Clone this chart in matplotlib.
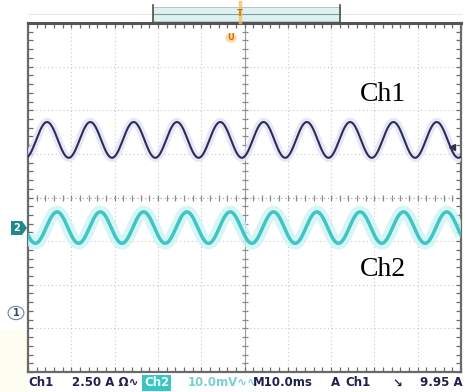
import numpy as np
import matplotlib
matplotlib.use("Agg")
import matplotlib.pyplot as plt
from matplotlib.patches import Rectangle, Circle, Polygon

# ---- data (in divisions) ----
n_div_x, n_div_y = 10, 8
# Ch1 sine: offset, amplitude, period, time of first peak (divisions)
ch1_offset, ch1_amp, ch1_period, ch1_peak = 1.32, 0.41, 1.0, 0.44
# Ch2 sine
ch2_offset, ch2_amp, ch2_period, ch2_peak = -0.69, 0.36, 1.0, 0.67
labels = ["Ch1", "Ch2"]
label_pos_y = [2.35, -1.65]
status_texts = ["Ch1", "2.50 A \u03a9\u223f", "Ch2", "10.0mV\u223f\u223f", "M10.0ms", "A", "Ch1", "\u2198", "9.95 A"]

W, H = 465, 392
fig = plt.figure(figsize=(W / 100, H / 100), dpi=100)
fig.patch.set_facecolor("white")

L, R, T, B = 28, 461, 23, 372
ax = fig.add_axes([L / W, 1 - B / H, (R - L) / W, (B - T) / H])
ax.set_xlim(0, n_div_x)
ax.set_ylim(-n_div_y / 2, n_div_y / 2)
ax.set_facecolor("white")

# grid
for gx in range(1, n_div_x):
    if gx == n_div_x // 2:
        continue
    ax.axvline(gx, color="#c8c8c8", lw=0.8, ls=(0, (1, 2.5)), zorder=1)
for gy in range(-n_div_y // 2 + 1, n_div_y // 2):
    if gy == 0:
        continue
    ax.axhline(gy, color="#c8c8c8", lw=0.8, ls=(0, (1, 2.5)), zorder=1)
ax.axvline(n_div_x / 2, color="#9a9a9a", lw=0.8, zorder=1)
ax.axhline(0, color="#9a9a9a", lw=0.8, ls=(0, (1, 2.5)), zorder=1)
mx = np.arange(0, n_div_x + 0.01, 0.2)
my = np.arange(-n_div_y / 2, n_div_y / 2 + 0.01, 0.2)
ax.plot(mx, np.zeros_like(mx), ls="", marker="|", ms=5, color="#8a8a8a", mew=0.9, zorder=2)
ax.plot(np.full_like(my, n_div_x / 2), my, ls="", marker="_", ms=5, color="#8a8a8a", mew=0.9, zorder=2)

for s in ax.spines.values():
    s.set_color("#6a6a6a")
    s.set_linewidth(1.6)
ax.spines["top"].set_linewidth(2.2)
ax.spines["top"].set_color("#555555")
ax.set_xticks(mx)
ax.set_yticks(my)
ax.tick_params(direction="in", length=3.5, width=0.9, color="#6a6a6a",
               top=True, right=True, labelbottom=False, labelleft=False)

# waveforms
t = np.linspace(0, n_div_x, 2000)
y1 = ch1_offset + ch1_amp * np.cos(2 * np.pi * (t - ch1_peak) / ch1_period)
y2 = ch2_offset + ch2_amp * np.cos(2 * np.pi * (t - ch2_peak) / ch2_period)
ax.plot(t, y1, color="#e2e2f4", lw=6, alpha=0.8, zorder=3, solid_capstyle="butt")
ax.plot(t, y1, color="#2c2c5c", lw=1.5, zorder=4)
ax.plot(t, y2, color="#ccf4f4", lw=9, alpha=0.8, zorder=3, solid_capstyle="butt")
ax.plot(t, y2, color="#40c4c4", lw=2.5, zorder=4)

# channel labels
for lab, ly in zip(labels, label_pos_y):
    ax.text(8.2, ly, lab, fontsize=20, family="Liberation Serif", color="black",
            ha="center", va="center", zorder=6)

# right Ch1 marker
ax.plot([9.8], [1.15], marker="<", color="#303050", ms=4, ls="", zorder=6, clip_on=False)

def fx(px):
    return px / W

def fy(py):
    return 1 - py / H

# top record bar
fig.add_artist(plt.Line2D([fx(28), fx(461)], [fy(14), fy(14)], color="#e8e8e8", lw=0.8))
fig.add_artist(Rectangle((fx(153), fy(21)), fx(340) - fx(153), fy(7) - fy(21),
                         facecolor="#dcf2f2", edgecolor="#b8b8b8", lw=0.6))
fig.add_artist(plt.Line2D([fx(153), fx(340)], [fy(14), fy(14)], color="#8a9a9a", lw=0.8))
for xb in (153, 340):
    fig.add_artist(plt.Line2D([fx(xb), fx(xb)], [fy(5), fy(22)], color="#505050", lw=1.2))

# trigger markers (orange)
fig.add_artist(plt.Line2D([fx(240), fx(240)], [fy(2), fy(22)], color="#f5c060", lw=2.5, alpha=0.8))
fig.text(fx(240), fy(13), "T", color="#d07010", fontsize=6, ha="center", va="center", weight="bold")
fig.add_artist(Circle((fx(231), fy(38)), 0.012, transform=fig.transFigure,
                      facecolor="#fbd9a8", edgecolor="none"))
fig.text(fx(231), fy(38), "U", color="#d07010", fontsize=6, ha="center", va="center", weight="bold")

# left markers
fig.add_artist(Polygon([[fx(11), fy(221)], [fx(22), fy(221)], [fx(27), fy(228)],
                        [fx(22), fy(235)], [fx(11), fy(235)]], closed=True,
                       facecolor="#1e8a8a", edgecolor="none"))
fig.text(fx(17), fy(228), "2", color="white", fontsize=7, ha="center", va="center", weight="bold")
fig.add_artist(Circle((fx(16), fy(313)), 0.017, transform=fig.transFigure,
                      facecolor="white", edgecolor="#7080a0", lw=0.8))
fig.text(fx(16), fy(313), "1", color="#404060", fontsize=7, ha="center", va="center", weight="bold")

# faint yellow tint lower-left
fig.add_artist(Rectangle((0, 0), fx(28), fy(330), facecolor="#fefdf2", edgecolor="none", zorder=0))

# status line
sx = [28, 72, 144, 188, 253, 331, 345, 392, 420]
scol = ["#202050", "#202050", "#1aa0a0", "#7ad0d0", "#202050", "#202050", "#202050", "#202050", "#202050"]
for i, (txt, x0, c) in enumerate(zip(status_texts, sx, scol)):
    kw = {}
    if i == 2:
        kw["bbox"] = dict(boxstyle="square,pad=0.15", facecolor="#3cc4c4", edgecolor="none")
        c = "#e8ffff"
    fig.text(fx(x0), fy(383), txt, color=c, fontsize=8.5, weight="bold",
             family=["DejaVu Sans"], ha="left", va="center", **kw)

fig.savefig("out.png", dpi=100, facecolor="white")
